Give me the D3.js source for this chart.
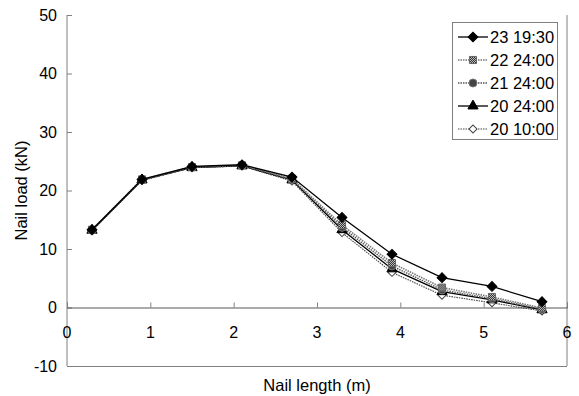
<!DOCTYPE html>
<html>
<head>
<meta charset="utf-8">
<script src="https://cdn.jsdelivr.net/npm/d3@7/dist/d3.min.js"></script>
<style>
  html, body { margin: 0; padding: 0; background: #fff; }
  svg { display: block; font-family: "Liberation Sans", Arial, sans-serif; }
</style>
</head>
<body>
<svg id="chart" width="579" height="396"></svg>
<script>
// Nail positions along the nail (m)
const nailLength = [0.3, 0.9, 1.5, 2.1, 2.7, 3.3, 3.9, 4.5, 5.1, 5.7];

// Nail load (kN) at each measurement time
const load_23_1930 = [13.3, 21.9, 24.1, 24.4, 22.3, 15.4, 9.1, 5.1, 3.6, 1.0];
const load_22_2400 = [13.3, 21.9, 24.0, 24.3, 22.0, 14.1, 7.6, 3.4, 1.8, -0.1];
const load_21_2400 = [13.2, 21.8, 24.0, 24.3, 21.9, 13.7, 7.1, 3.0, 1.5, -0.3];
const load_20_2400 = [13.2, 21.8, 23.9, 24.2, 21.8, 13.3, 6.6, 2.7, 1.3, -0.4];
const load_20_1000 = [13.1, 21.7, 23.9, 24.2, 21.6, 12.8, 6.0, 2.1, 0.8, -0.6];

const seriesNames = ["23 19:30", "22 24:00", "21 24:00", "20 24:00", "20 10:00"];
const seriesValues = [load_23_1930, load_22_2400, load_21_2400, load_20_2400, load_20_1000];

const xTicks = [0, 1, 2, 3, 4, 5, 6];
const yTicks = [-10, 0, 10, 20, 30, 40, 50];

const svg = d3.select("#chart");

const x = d3.scaleLinear().domain([0, 6]).range([67, 567]);
const y = d3.scaleLinear().domain([-10, 50]).range([366, 15]);

// hatched fill used by the "22 24:00" markers
const defs = svg.append("defs");
const hatch = defs.append("pattern")
  .attr("id", "hatch").attr("patternUnits", "userSpaceOnUse")
  .attr("width", 2).attr("height", 2);
hatch.append("rect").attr("width", 2).attr("height", 2).attr("fill", "#bbb");
hatch.append("rect").attr("width", 1).attr("height", 1).attr("fill", "#333");
hatch.append("rect").attr("x", 1).attr("y", 1).attr("width", 1).attr("height", 1).attr("fill", "#333");

// series styles; "rot" turns a square into a square diamond
const styles = [
  { stroke: "#000", dash: null, width: 1.3, symbol: d3.symbolSquare, rot: 45, size: 48, fill: "#000", mstroke: "#000" },
  { stroke: "#777", dash: "1.5,1", width: 1.6, symbol: d3.symbolSquare, rot: 0, size: 50, fill: "url(#hatch)", mstroke: "#666" },
  { stroke: "#555", dash: "1.5,1", width: 1.4, symbol: d3.symbolCircle, rot: 0, size: 50, fill: "#444", mstroke: "#777" },
  { stroke: "#000", dash: null, width: 1.3, symbol: d3.symbolTriangle, rot: 0, size: 45, fill: "#000", mstroke: "#000" },
  { stroke: "#444", dash: "1.5,1", width: 1.1, symbol: d3.symbolSquare, rot: 45, size: 32, fill: "#fff", mstroke: "#444" }
];

// plot frame (left, bottom, right)
const frame = svg.append("g").attr("stroke", "#808080").attr("fill", "none").attr("stroke-width", 1);
frame.append("line").attr("x1", x(0)).attr("x2", x(0)).attr("y1", y(50)).attr("y2", y(-10));
frame.append("line").attr("x1", x(0)).attr("x2", x(6)).attr("y1", y(-10) + 0.5).attr("y2", y(-10) + 0.5);
frame.append("line").attr("x1", x(6)).attr("x2", x(6)).attr("y1", y(50)).attr("y2", y(-10));

// y axis with inward ticks
const yAxis = d3.axisRight(y).tickValues(yTicks).tickSize(5).tickFormat("");
svg.append("g").attr("transform", `translate(${x(0)},0)`).call(yAxis)
  .call(g => g.select(".domain").remove())
  .call(g => g.selectAll(".tick line").attr("stroke", "#808080"));

svg.append("g").selectAll("text").data(yTicks).join("text")
  .attr("x", 57).attr("y", d => y(d) + 5.5)
  .attr("text-anchor", "end").attr("font-size", 16).attr("fill", "#000")
  .text(d => d);

// x axis along the zero line, ticks pointing up
const xAxis = d3.axisTop(x).tickValues(xTicks).tickSize(5).tickFormat("");
svg.append("g").attr("transform", `translate(0,${y(0)})`).call(xAxis)
  .call(g => g.select(".domain").attr("stroke", "#555"))
  .call(g => g.selectAll(".tick line").attr("stroke", "#808080"));

svg.append("g").selectAll("text").data(xTicks).join("text")
  .attr("x", d => x(d)).attr("y", y(0) + 30)
  .attr("text-anchor", "middle").attr("font-size", 16).attr("fill", "#000")
  .text(d => d);

// axis titles
svg.append("text").attr("x", x(3)).attr("y", 391)
  .attr("text-anchor", "middle").attr("font-size", 16.5).text("Nail length (m)");
svg.append("text").attr("transform", `translate(27,${y(20)}) rotate(-90)`)
  .attr("text-anchor", "middle").attr("font-size", 16.5).text("Nail load (kN)");

const marker = (s, tx, ty) => `translate(${tx},${ty}) rotate(${s.rot})`;

// series lines and markers (draw oldest first so the latest sits on top)
const line = d3.line().x((d, i) => x(nailLength[i])).y(d => y(d));
const order = [4, 3, 2, 1, 0];
order.forEach(k => {
  const s = styles[k];
  const g = svg.append("g");
  g.append("path").datum(seriesValues[k])
    .attr("d", line).attr("fill", "none")
    .attr("stroke", s.stroke).attr("stroke-width", s.width)
    .attr("stroke-dasharray", s.dash);
  g.selectAll("path.m").data(seriesValues[k]).join("path").attr("class", "m")
    .attr("transform", (d, i) => marker(s, x(nailLength[i]), y(d)))
    .attr("d", d3.symbol().type(s.symbol).size(s.size))
    .attr("fill", s.fill).attr("stroke", s.mstroke).attr("stroke-width", 1);
});

// legend
const legend = svg.append("g");
legend.append("rect").attr("x", 452.5).attr("y", 22.5).attr("width", 105).attr("height", 117)
  .attr("fill", "#fff").attr("stroke", "#808080");
seriesNames.forEach((name, k) => {
  const s = styles[k];
  const cy = 37 + k * 23;
  legend.append("line").attr("x1", 458).attr("x2", 488).attr("y1", cy).attr("y2", cy)
    .attr("stroke", s.stroke).attr("stroke-width", s.width).attr("stroke-dasharray", s.dash);
  legend.append("path").attr("transform", marker(s, 473, cy))
    .attr("d", d3.symbol().type(s.symbol).size(s.size))
    .attr("fill", s.fill).attr("stroke", s.mstroke);
  legend.append("text").attr("x", 490).attr("y", cy + 6)
    .attr("font-size", 16.5).attr("fill", "#000").text(name);
});
</script>
</body>
</html>
